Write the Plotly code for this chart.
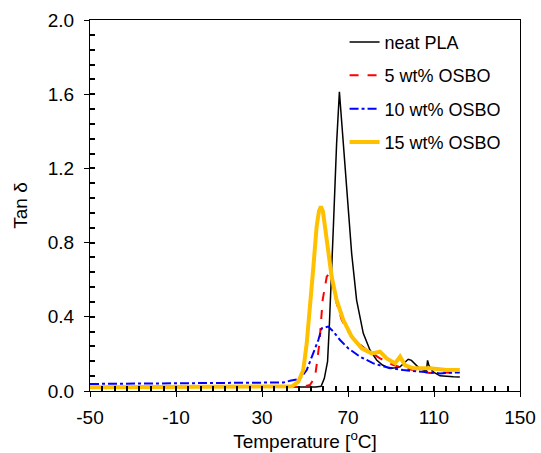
import plotly.graph_objects as go

# neat PLA
t_pla = [-50, -20, 10, 40, 50, 55, 57.5, 59, 60.5, 61.3, 63.2, 64.7, 66.0, 67.8, 69.4, 71.7, 74.0, 77.1, 80.2, 83.3, 86, 89.5, 92, 94.2, 96, 98, 99.5, 101, 103, 105, 106.5, 107, 107.6, 108.5, 110, 112.8, 116, 119, 122]
y_pla = [0.02, 0.02, 0.02, 0.02, 0.02, 0.022, 0.025, 0.068, 0.16, 0.347, 0.886, 1.335, 1.613, 1.335, 1.066, 0.742, 0.49, 0.311, 0.221, 0.167, 0.14, 0.122, 0.125, 0.131, 0.15, 0.171, 0.165, 0.149, 0.125, 0.113, 0.11, 0.165, 0.14, 0.12, 0.1, 0.082, 0.078, 0.077, 0.076]

# 5 wt% OSBO
t_5 = [-50, -20, 10, 40, 48, 52.3, 54.7, 56.7, 58.2, 60.1, 61.3, 63.2, 64.7, 67.1, 70.1, 74.0, 78.7, 84.9, 91.1, 97, 103, 108, 113, 118, 122]
y_5 = [0.02, 0.02, 0.02, 0.02, 0.022, 0.032, 0.077, 0.257, 0.49, 0.616, 0.634, 0.562, 0.473, 0.383, 0.32, 0.266, 0.221, 0.176, 0.14, 0.12, 0.108, 0.097, 0.1, 0.097, 0.098]

# 10 wt% OSBO
t_10 = [-50, -20, 10, 30, 40, 43, 47.7, 50.8, 53.9, 56.2, 57.8, 59.5, 60.8, 63.2, 66.3, 70.1, 75.6, 81.8, 88.0, 95.7, 103.5, 109.5, 112.8, 118, 122]
y_10 = [0.038, 0.04, 0.042, 0.043, 0.046, 0.055, 0.065, 0.113, 0.203, 0.275, 0.338, 0.345, 0.347, 0.32, 0.275, 0.23, 0.185, 0.149, 0.128, 0.113, 0.104, 0.097, 0.095, 0.1, 0.1]

# 15 wt% OSBO
t_15 = [-50, -20, 10, 40, 44, 46.9, 49.2, 50.8, 52.3, 53.9, 55.4, 56.5, 57.4, 58.3, 59.3, 60.8, 62.4, 64.7, 67.8, 71.7, 76.4, 81.0, 84.9, 88.0, 91.9, 94.2, 96.5, 100.4, 108, 115, 122]
y_15 = [0.02, 0.02, 0.02, 0.02, 0.025, 0.05, 0.113, 0.257, 0.437, 0.67, 0.886, 0.97, 0.994, 0.97, 0.886, 0.742, 0.616, 0.49, 0.383, 0.293, 0.23, 0.203, 0.212, 0.176, 0.149, 0.185, 0.14, 0.122, 0.122, 0.115, 0.113]

x_ticks = [-50, -10, 30, 70, 110, 150]
x_ticklabels = ["-50", "-10", "30", "70", "110", "150"]
y_ticks = [0.0, 0.4, 0.8, 1.2, 1.6, 2.0]
y_ticklabels = ["0.0", "0.4", "0.8", "1.2", "1.6", "2.0"]
x_range = [-50, 150]
y_range = [0.0, 2.0]

fig = go.Figure()
fig.add_trace(go.Scatter(x=t_pla, y=y_pla, mode="lines", name="neat PLA",
                         legendgroup="a", line=dict(color="black", width=1.5)))
fig.add_trace(go.Scatter(x=t_5, y=y_5, mode="lines", name="5 wt% OSBO",
                         legendgroup="b", line=dict(color="#FF0000", width=2, dash="dash")))
fig.add_trace(go.Scatter(x=t_10, y=y_10, mode="lines", name="10 wt% OSBO",
                         legendgroup="c", line=dict(color="#0000FF", width=2, dash="dashdot")))
fig.add_trace(go.Scatter(x=t_15, y=y_15, mode="lines", name="15 wt% OSBO",
                         legendgroup="d", line=dict(color="#FFC000", width=4)))
# empty helper trace so the overlay (minor-tick) axes are drawn
fig.add_trace(go.Scatter(x=[None], y=[None], xaxis="x2", yaxis="y2", showlegend=False,
                         mode="lines"))

font = dict(family="Liberation Sans, Arial, sans-serif", size=19, color="black")

fig.update_layout(
    width=541, height=453,
    margin=dict(l=90, r=21, t=20, b=62),
    paper_bgcolor="white", plot_bgcolor="white",
    font=font,
    showlegend=True,
    legend=dict(x=0.592, y=0.99, xanchor="left", yanchor="top",
                bgcolor="rgba(0,0,0,0)", font=dict(size=18),
                traceorder="grouped", tracegroupgap=7, itemwidth=30),
    xaxis=dict(range=x_range, tickmode="array", tickvals=x_ticks, ticktext=x_ticklabels,
               automargin=False,
               showgrid=False, zeroline=False, showline=True, linecolor="black", linewidth=1.3,
               mirror=True, ticks="outside", ticklen=5, tickcolor="black", tickwidth=1.3,
               ticklabelstandoff=4,
               title=dict(text="Temperature [<sup>o</sup>C]", font=font, standoff=6)),
    yaxis=dict(range=y_range, tickmode="array", tickvals=y_ticks, ticktext=y_ticklabels,
               automargin=False,
               showgrid=False, zeroline=False, showline=True, linecolor="black", linewidth=1.3,
               mirror=True, ticks="outside", ticklen=5, tickcolor="black", tickwidth=1.3,
               ticklabelstandoff=6,
               title=dict(text="Tan δ", font=font, standoff=14)),
    xaxis2=dict(range=x_range, overlaying="x", anchor="y", side="bottom",
                tickmode="linear", tick0=-50, dtick=40/7,
                ticks="inside", ticklen=5, tickcolor="black", tickwidth=1.5,
                showticklabels=False),
    yaxis2=dict(range=y_range, overlaying="y", anchor="x", side="left",
                tickmode="linear", tick0=0, dtick=0.08,
                ticks="inside", ticklen=5, tickcolor="black", tickwidth=1.5,
                showticklabels=False),
)

fig.write_html("out.html")
